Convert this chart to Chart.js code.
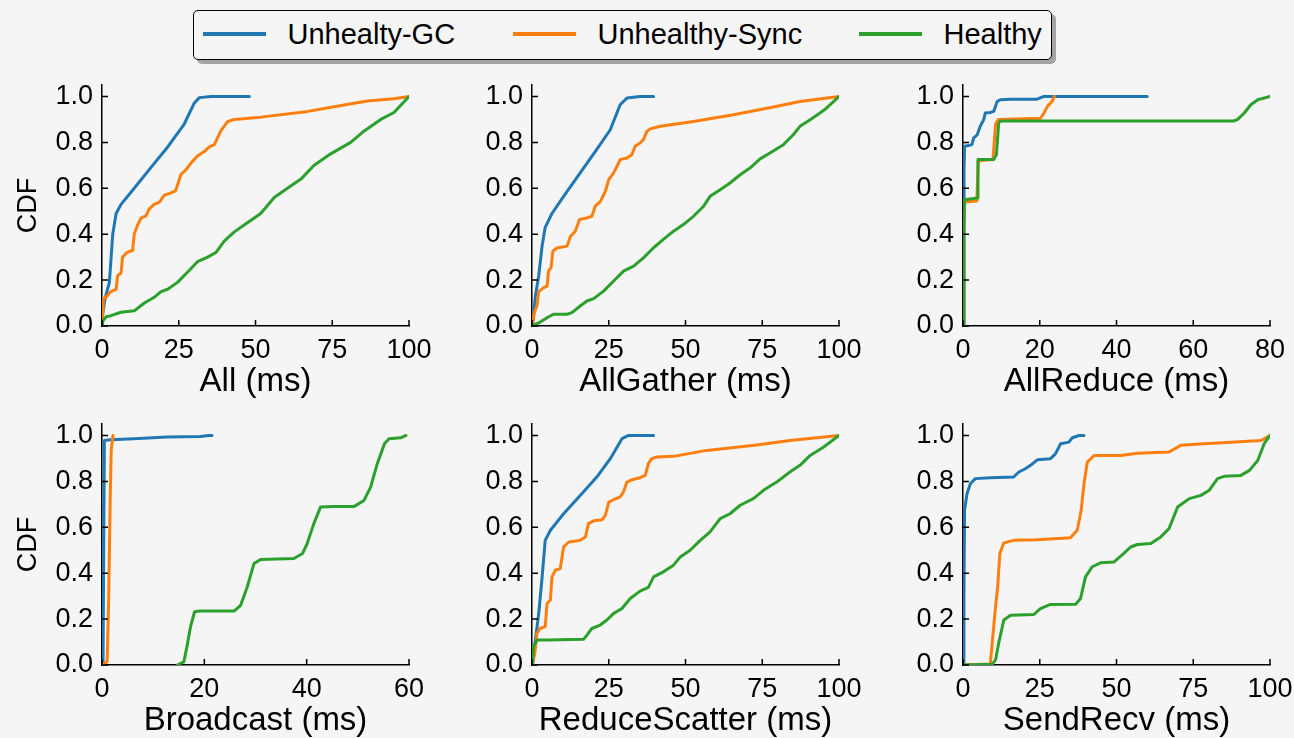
<!DOCTYPE html>
<html><head><meta charset="utf-8">
<script src="https://cdn.jsdelivr.net/npm/chart.js@4.4.0/dist/chart.umd.min.js"></script>
<style>
html,body{margin:0;padding:0;background:#f5f5f5;width:1294px;height:738px;overflow:hidden;position:relative;font-family:"Liberation Sans",Arial,sans-serif;}
canvas{position:absolute;}
#legend{position:absolute;left:193px;top:10px;width:857px;height:48px;border:1.5px solid #000;border-radius:5px;background:#f5f5f5;box-shadow:4px 4px 0 rgba(0,0,0,0.33);}
.item{position:absolute;top:-1px;height:48px;display:flex;align-items:center;font-size:29px;color:#000;white-space:nowrap;}
.sw{display:inline-block;width:63px;height:3.5px;margin-right:22px;}
</style></head>
<body>
<div id="legend"></div>
<script>
// ---- series meta ----
const seriesNames = ['Unhealty-GC', 'Unhealthy-Sync', 'Healthy'];
const seriesColors = ['#1f77b4', '#ff7f0e', '#2ca02c'];
const yTicks = [0, 0.2, 0.4, 0.6, 0.8, 1.0];

// ---- All ----
const allGC = [[0,0.03],[1,0.12],[2.4,0.19],[3.5,0.40],[4.6,0.49],[6.2,0.53],[10.5,0.60],[15.9,0.69],[21.4,0.78],[26.8,0.88],[30,0.97],[31.7,0.995],[35.5,1.0],[48,1.0]];
const allSync = [[0,0.0],[0.5,0.12],[1.6,0.13],[2.9,0.15],[4.6,0.16],[5.1,0.22],[6.2,0.23],[6.7,0.30],[8.1,0.32],[10,0.33],[10.5,0.40],[11.6,0.44],[12.7,0.47],[14.3,0.48],[15.4,0.51],[17,0.53],[18.7,0.54],[20.3,0.57],[22.5,0.58],[24,0.59],[25.7,0.66],[27.3,0.68],[29,0.71],[31,0.74],[33.3,0.76],[34.9,0.78],[36.6,0.79],[38.7,0.85],[40.9,0.89],[43,0.90],[51.7,0.91],[67,0.935],[75.6,0.955],[86.4,0.98],[95,0.99],[100,1.0]];
const allHealthy = [[0,0.0],[0.2,0.02],[1.3,0.04],[2.9,0.045],[6.2,0.06],[10.5,0.066],[13.8,0.10],[17,0.125],[19.2,0.15],[21.4,0.16],[24.6,0.19],[27.9,0.235],[31.1,0.28],[34.4,0.30],[37.1,0.32],[39.8,0.37],[43.1,0.41],[46.3,0.44],[51.7,0.49],[56.1,0.56],[60.4,0.60],[64.8,0.64],[69.1,0.70],[74.5,0.75],[81,0.80],[85.4,0.85],[90.8,0.90],[95.1,0.93],[100,1.0]];

// ---- AllGather ----
const agGC = [[0,0],[0.3,0.015],[1.1,0.13],[2.2,0.22],[3.3,0.35],[4.3,0.43],[6.5,0.49],[10.3,0.565],[15.7,0.667],[21.1,0.77],[25.5,0.855],[28.7,0.964],[30.9,0.993],[35.2,1.0],[39.6,1.0]];
const agSync = [[0,0],[0.8,0.06],[1.6,0.087],[2.2,0.15],[3.8,0.167],[4.9,0.174],[5.4,0.24],[6.2,0.254],[6.8,0.326],[8.1,0.34],[11.4,0.348],[12.5,0.39],[14.1,0.413],[15.5,0.464],[17.9,0.471],[19.5,0.478],[20.6,0.522],[22.3,0.543],[23.9,0.587],[25,0.638],[26.6,0.667],[27.7,0.696],[28.7,0.725],[30.9,0.732],[32.5,0.746],[33.6,0.783],[35.2,0.797],[36.3,0.812],[37.4,0.848],[38.5,0.859],[41.8,0.87],[52.6,0.891],[65.6,0.92],[78.6,0.954],[87.3,0.978],[100,1.0]];
const agHealthy = [[0,0],[2.7,0.017],[4.9,0.036],[7,0.051],[11.4,0.051],[13,0.058],[15.7,0.087],[17.9,0.109],[20.1,0.119],[23.3,0.152],[26.6,0.196],[29.8,0.239],[33.1,0.261],[36.3,0.297],[39.6,0.341],[42.8,0.377],[46.1,0.413],[49.3,0.442],[52.6,0.478],[55.9,0.522],[58,0.565],[61.3,0.594],[64.5,0.623],[67.8,0.659],[71,0.688],[74.3,0.728],[77.5,0.754],[81.9,0.79],[85.1,0.833],[87.3,0.87],[90.6,0.899],[93.8,0.928],[95.9,0.949],[100,1.0]];

// ---- AllReduce ----
const arGC = [[0,0],[0.26,0.68],[0.4,0.783],[1.5,0.786],[2.3,0.79],[2.8,0.82],[3.7,0.833],[4.5,0.87],[5.4,0.899],[5.8,0.928],[7.1,0.93],[8,0.935],[8.9,0.978],[9.7,0.986],[12.4,0.988],[19.3,0.988],[21.1,1.0],[48,1.0]];
const arSync = [[0,0],[0.2,0.4],[0.3,0.54],[3.6,0.545],[4,0.72],[7.8,0.725],[8.5,0.88],[9.2,0.9],[20.2,0.905],[21.1,0.928],[22,0.957],[23.2,0.978],[23.8,1.0]];
const arHealthy = [[0,0],[0.2,0.4],[0.4,0.55],[3.7,0.558],[3.9,0.725],[8,0.725],[8.7,0.746],[9.3,0.884],[9.7,0.893],[20,0.893],[60,0.893],[70.5,0.893],[71.5,0.899],[73.3,0.928],[75,0.964],[76.8,0.986],[80,1.0]];

// ---- Broadcast ----
const bcGC = [[0.2,0],[0.46,0.978],[1.6,0.981],[6.2,0.986],[12.7,0.993],[19.2,0.996],[20.9,1.0],[21.5,1.0]];
const bcSync = [[0.3,0],[0.46,0.007],[1,0.014],[1.3,0.28],[1.6,0.717],[1.8,0.935],[2.15,1.0]];
const bcHealthy = [[14.7,0],[16,0.014],[16.6,0.08],[17.3,0.167],[18.1,0.232],[19.2,0.235],[25.8,0.235],[27.1,0.26],[28.4,0.341],[29.7,0.442],[31,0.46],[37.5,0.464],[39.2,0.486],[40.1,0.529],[41.4,0.616],[42.7,0.688],[45.3,0.691],[49.3,0.691],[51.2,0.717],[52.5,0.775],[53.8,0.877],[55.2,0.964],[56.1,0.986],[58.4,0.99],[59.4,1.0]];

// ---- ReduceScatter ----
const rsGC = [[0,0],[0.3,0.007],[1.1,0.109],[2.2,0.225],[3.3,0.384],[4.3,0.543],[6,0.587],[10.3,0.659],[15.7,0.739],[21.1,0.819],[25.5,0.899],[29.3,0.986],[31.5,1.0],[39.6,1.0]];
const rsSync = [[0,0],[0.9,0.05],[1.6,0.138],[2.7,0.16],[4.3,0.167],[4.9,0.268],[6,0.283],[6.5,0.384],[7.6,0.413],[9.2,0.42],[10.3,0.514],[12,0.536],[15.7,0.543],[17.4,0.558],[18.4,0.616],[20.1,0.628],[22.8,0.633],[23.9,0.652],[25,0.71],[26.6,0.72],[28.7,0.732],[29.8,0.754],[30.9,0.797],[32.5,0.807],[35.2,0.816],[36.9,0.826],[37.9,0.877],[39,0.899],[40.7,0.906],[46.1,0.909],[56.9,0.935],[73.2,0.959],[84,0.978],[100,1.0]];
const rsHealthy = [[0,0],[0.5,0.08],[1.6,0.109],[4.9,0.109],[16.8,0.112],[17.9,0.13],[19.5,0.159],[22.2,0.174],[24.4,0.196],[26.6,0.225],[29.3,0.246],[32,0.29],[35.2,0.322],[37.9,0.338],[39.6,0.384],[42.8,0.406],[46.1,0.435],[48.3,0.471],[51.5,0.5],[54.8,0.543],[58,0.58],[61.3,0.638],[64.5,0.659],[67.8,0.696],[72.1,0.725],[75.4,0.761],[79.7,0.797],[84,0.841],[87.3,0.87],[90.6,0.913],[94.9,0.949],[100,1.0]];

// ---- SendRecv ----
const srGC = [[0,0],[0.3,0.283],[0.5,0.674],[1.3,0.746],[2.4,0.79],[4,0.812],[8.9,0.816],[16.5,0.819],[18.2,0.841],[20.3,0.855],[22,0.87],[24.2,0.894],[28.5,0.899],[30.1,0.92],[31.8,0.964],[34.5,0.971],[35.6,0.99],[37.8,1.0],[39.4,1.0]];
const srSync = [[0,0],[8.9,0.004],[9.8,0.138],[10.6,0.254],[11.3,0.341],[12,0.486],[13.3,0.532],[16.5,0.543],[24.2,0.546],[35,0.554],[37.2,0.587],[38.5,0.674],[39.4,0.79],[40.5,0.884],[42.7,0.913],[51.4,0.913],[56.8,0.923],[67.1,0.928],[70.9,0.957],[78.6,0.964],[87.3,0.971],[97.1,0.978],[100,1.0]];
const srHealthy = [[0,0],[9.5,0.003],[10.6,0.022],[11.6,0.094],[13.3,0.196],[15.5,0.217],[23.1,0.22],[25.2,0.246],[28.5,0.264],[36.7,0.265],[38.3,0.29],[39.9,0.384],[42.1,0.428],[44.8,0.445],[49.2,0.449],[52.4,0.486],[54.6,0.514],[56.8,0.525],[61.2,0.529],[64.4,0.558],[67.1,0.594],[69.9,0.688],[73.7,0.725],[77.5,0.739],[80.2,0.761],[82.9,0.812],[85.1,0.822],[90.5,0.826],[93.3,0.848],[96,0.891],[98.1,0.964],[100,1.0]];

// ---- panel definitions ----
const ticks100 = [0, 25, 50, 75, 100];
const ticks80 = [0, 20, 40, 60, 80];
const ticks60 = [0, 20, 40, 60];
const panels = [
  {col:0,row:0,title:'All (ms)',xmax:100,xticks:ticks100,series:[allGC,allSync,allHealthy]},
  {col:1,row:0,title:'AllGather (ms)',xmax:100,xticks:ticks100,series:[agGC,agSync,agHealthy]},
  {col:2,row:0,title:'AllReduce (ms)',xmax:80,xticks:ticks80,series:[arGC,arSync,arHealthy]},
  {col:0,row:1,title:'Broadcast (ms)',xmax:60,xticks:ticks60,series:[bcGC,bcSync,bcHealthy]},
  {col:1,row:1,title:'ReduceScatter (ms)',xmax:100,xticks:ticks100,series:[rsGC,rsSync,rsHealthy]},
  {col:2,row:1,title:'SendRecv (ms)',xmax:100,xticks:ticks100,series:[srGC,srSync,srHealthy]}
];

// ---- legend ----
const legendLefts = [8.5, 318.5, 664.5];
const legend = document.getElementById('legend');
seriesNames.forEach((n,i)=>{
  const it = document.createElement('div');
  it.className='item'; it.style.left = legendLefts[i]+'px';
  const sw = document.createElement('span'); sw.className='sw'; sw.style.background = seriesColors[i];
  const tx = document.createElement('span'); tx.textContent = n;
  it.appendChild(sw); it.appendChild(tx); legend.appendChild(it);
});

// ---- layout ----
const FAM = '"Liberation Sans", Arial, sans-serif';
const canvasLefts = [2, 432, 863];
const canvasTops = [70, 409];
const CW = 430, CH = 328;

const inwardTicks = {
  id:'inwardTicks',
  afterDatasetsDraw(chart){
    const {ctx, chartArea:a, scales:{x,y}} = chart;
    ctx.save(); ctx.strokeStyle='#000'; ctx.lineWidth=1.5; ctx.beginPath();
    x.ticks.forEach(t=>{const px=x.getPixelForValue(t.value); ctx.moveTo(px,a.bottom); ctx.lineTo(px,a.bottom-6);});
    y.ticks.forEach(t=>{const py=y.getPixelForValue(t.value); ctx.moveTo(a.left,py); ctx.lineTo(a.left+6,py);});
    ctx.stroke(); ctx.restore();
  }
};

panels.forEach(p=>{
  const cv = document.createElement('canvas');
  cv.width = CW; cv.height = CH;
  cv.style.width = CW+'px'; cv.style.height = CH+'px';
  cv.style.left = canvasLefts[p.col]+'px'; cv.style.top = canvasTops[p.row]+'px';
  document.body.appendChild(cv);
  new Chart(cv.getContext('2d'), {
    type:'line',
    data:{datasets: p.series.map((d,i)=>({
      label: seriesNames[i],
      data: d.map(q=>({x:q[0], y:q[1]})),
      borderColor: seriesColors[i], backgroundColor: seriesColors[i],
      borderWidth: 3, pointRadius: 0, tension: 0, fill:false,
      borderJoinStyle:'round', borderCapStyle:'round', order: 2-i
    }))},
    options:{
      responsive:false, animation:false, devicePixelRatio:1,
      layout:{padding:{left:0, top:15, right:23, bottom:0}},
      plugins:{legend:{display:false}, tooltip:{enabled:false}},
      events:[],
      scales:{
        x:{type:'linear', min:0, max:p.xmax,
          afterBuildTicks: s=>{ s.ticks = p.xticks.map(v=>({value:v})); },
          afterFit: s=>{ s.height = 72; s.paddingLeft = 0; s.paddingRight = 0; },
          grid:{display:false, drawTicks:false},
          border:{display:true, color:'#000', width:1.5},
          ticks:{padding:8, color:'#000', font:{family:FAM, size:27}, maxRotation:0, autoSkip:false, callback:v=>String(v)},
          title:{display:true, text:p.title, color:'#000', font:{family:FAM, size:33, lineHeight:1}, padding:{top:0,bottom:0}}
        },
        y:{type:'linear', min:0, max:1.05,
          afterBuildTicks: s=>{ s.ticks = yTicks.map(v=>({value:v})); },
          afterFit: s=>{ s.width = 100; s.paddingTop = 0; s.paddingBottom = 0; },
          grid:{display:false, drawTicks:false},
          border:{display:true, color:'#000', width:1.5},
          ticks:{padding:9, color:'#000', font:{family:FAM, size:27}, autoSkip:false, callback:v=>Number(v).toFixed(1)},
          title:{display:p.col===0, text:'CDF', color:'#000', font:{family:FAM, size:27, lineHeight:1.2}, padding:{top:10,bottom:0}}
        }
      }
    },
    plugins:[inwardTicks]
  });
});
</script>
</body></html>
